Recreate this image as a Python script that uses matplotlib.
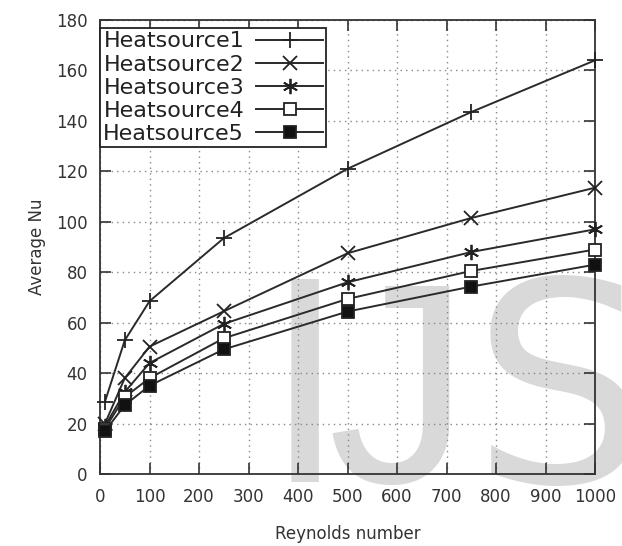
import matplotlib
matplotlib.use("Agg")
from matplotlib import pyplot as plt
from matplotlib.ticker import MultipleLocator

# Reynolds numbers and average Nusselt numbers for each heat source
reynolds = [10, 50, 100, 250, 500, 750, 1000]
hs1 = [28.7, 53.0, 68.5, 93.5, 121.0, 143.5, 164.0]
hs2 = [20.0, 38.0, 50.5, 64.5, 87.5, 101.5, 113.5]
hs3 = [19.0, 32.5, 44.0, 59.5, 76.0, 88.0, 97.0]
hs4 = [18.0, 30.5, 38.0, 53.8, 69.4, 80.5, 89.0]
hs5 = [17.0, 27.3, 35.0, 49.4, 64.4, 74.3, 83.0]
labels = ["Heatsource1", "Heatsource2", "Heatsource3", "Heatsource4", "Heatsource5"]

series = [hs1, hs2, hs3, hs4, hs5]
markers = ["+", "x", (6, 2, 0), "s", "s"]
msizes = [12, 10, 11, 8, 8]
faces = ["#222222", "#222222", "#222222", "white", "#111111"]

W, H = 622, 546
fig = plt.figure(figsize=(W / 100, H / 100), dpi=100)
fig.subplots_adjust(left=0.1608, right=0.9566, bottom=0.1319, top=0.9634)
ax = fig.add_subplot(111)
ax.set_axisbelow(True)

for ys, m, ms, fc, lab in zip(series, markers, msizes, faces, labels):
    ax.plot(reynolds, ys, color="#2a2a2a", lw=1.4, marker=m, markersize=ms,
            markerfacecolor=fc, markeredgecolor="#222222", markeredgewidth=1.3,
            label=lab, zorder=3, clip_on=False)

ax.set_xlim(0, 1000)
ax.set_ylim(0, 180)
ax.xaxis.set_major_locator(MultipleLocator(100))
ax.yaxis.set_major_locator(MultipleLocator(20))
ax.tick_params(direction="in", length=8, width=1.2, top=True, right=True,
               labelsize=12, colors="#333333")
ax.tick_params(axis="x", pad=10)
ax.tick_params(axis="y", pad=9)
ax.grid(True, color="#888888", linestyle=(0, (1, 3)), linewidth=1.0)
for sp in ax.spines.values():
    sp.set_linewidth(1.3)
    sp.set_color("#333333")

ax.set_xlabel("Reynolds number", fontsize=12, color="#333333", labelpad=14)
ax.set_ylabel("Average Nu", fontsize=12, color="#333333", labelpad=7)

leg = ax.legend(loc="upper left", bbox_to_anchor=(0.0, 0.982), markerfirst=False,
                fontsize=16, handlelength=3.0, handletextpad=0.55, borderpad=0.15,
                labelspacing=0.14, borderaxespad=0.0, fancybox=False, framealpha=1)
leg.get_frame().set_edgecolor("#222222")
leg.get_frame().set_linewidth(1.3)
for t in leg.get_texts():
    t.set_color("#222222")

# watermark letters, behind the grid
wm = dict(transform=fig.transFigure, color="#d9d9d9", ha="left", va="baseline",
          zorder=0.3, clip_on=False)
base = 1 - 482 / H
ax.text(264 / W, base, "I", fontsize=201, family="DejaVu Sans", **wm)
ax.text(328 / W, base, "J", fontsize=205, family="Liberation Sans", **wm)
ax.text(472 / W, base, "S", fontsize=201, family="DejaVu Sans", **wm)

fig.savefig("out.png", dpi=100)
